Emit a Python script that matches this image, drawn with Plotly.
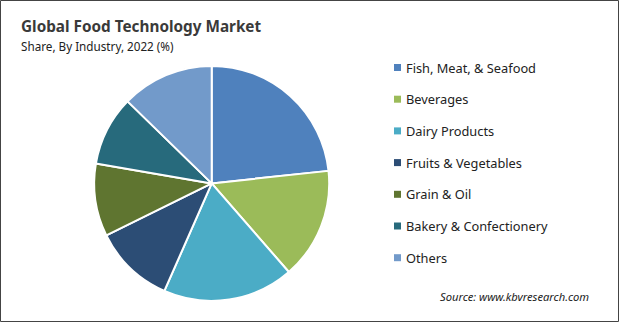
import plotly.graph_objects as go

labels = ["Fish, Meat, & Seafood", "Beverages", "Dairy Products", "Fruits & Vegetables",
          "Grain & Oil", "Bakery & Confectionery", "Others"]
shares = [23.3, 15.3, 18.0, 11.1, 10.0, 9.6, 12.7]
colors = ["#4F81BD", "#9BBB59", "#4BACC6", "#2C4D75", "#5F7530", "#276A7C", "#729ACA"]

W, H = 619, 322
FONT = "Noto Sans"

fig = go.Figure(go.Pie(
    labels=labels, values=shares, sort=False, direction="clockwise", rotation=0,
    marker=dict(colors=colors, line=dict(color="white", width=2)),
    textinfo="none", hoverinfo="label+percent", showlegend=False,
    domain=dict(x=[94.2 / W, 329.2 / W], y=[1 - 300.9 / H, 1 - 65.9 / H]),
))

shapes = [dict(type="rect", xref="paper", yref="paper", x0=0.5 / W, x1=1 - 0.5 / W,
               y0=0.5 / H, y1=1 - 0.5 / H, line=dict(color="#444", width=1))]
annotations = [
    dict(text="<b>Global Food Technology Market</b>", x=19 / W, y=1 - 26 / H, xref="paper", yref="paper",
         xanchor="left", yanchor="middle", showarrow=False, font=dict(family=FONT, size=15.3, color="#3a3a3a")),
    dict(text="Share, By Industry, 2022 (%)", x=19 / W, y=1 - 46 / H, xref="paper", yref="paper",
         xanchor="left", yanchor="middle", showarrow=False, font=dict(family=FONT, size=11.7, color="#222")),
    dict(text="<i>Source: www.kbvresearch.com</i>", x=591 / W, y=1 - 296 / H, xref="paper", yref="paper",
         xanchor="right", yanchor="middle", showarrow=False, font=dict(family=FONT, size=11.2, color="#222")),
]
y0, step = 67.5, 31.7
for i, (lab, col) in enumerate(zip(labels, colors)):
    yc = y0 + i * step
    shapes.append(dict(type="rect", xref="paper", yref="paper", x0=394 / W, x1=401 / W,
                       y0=1 - (yc + 3.5) / H, y1=1 - (yc - 3.5) / H, fillcolor=col, line=dict(width=0)))
    annotations.append(dict(text=lab, x=404 / W, y=1 - yc / H, xref="paper", yref="paper",
                            xanchor="left", yanchor="middle", showarrow=False,
                            font=dict(family=FONT, size=12.8, color="#222")))

fig.update_layout(width=W, height=H, margin=dict(l=0, r=0, t=0, b=0),
                  paper_bgcolor="white", plot_bgcolor="white",
                  shapes=shapes, annotations=annotations)
fig.write_html("out.html")
